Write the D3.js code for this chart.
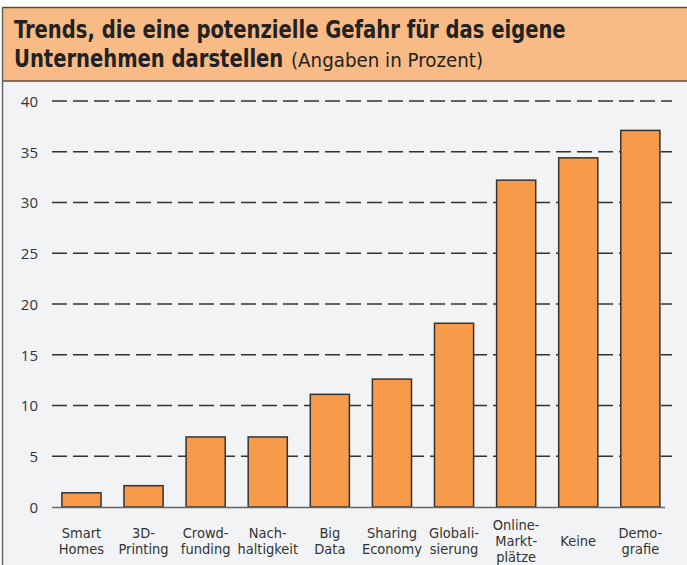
<!DOCTYPE html>
<html><head><meta charset="utf-8">
<script src="https://cdn.jsdelivr.net/npm/d3@7"></script>
<style>
body{margin:0;background:#fff;}
svg{display:block;}
</style></head>
<body>
<svg id="c" width="687" height="565"></svg>
<script>
const categories = [["Smart","Homes"],["3D-","Printing"],["Crowd-","funding"],["Nach-","haltigkeit"],["Big","Data"],["Sharing","Economy"],["Globali-","sierung"],["Online-","Markt-","plätze"],["Keine"],["Demo-","grafie"]];
const values = [1.4, 2.1, 6.9, 6.9, 11.1, 12.6, 18.1, 32.2, 34.4, 37.1];
const yTicks = [0,5,10,15,20,25,30,35,40];
const titleLine1 = "Trends, die eine potenzielle Gefahr für das eigene";
const titleLine2 = "Unternehmen darstellen";
const subtitle = "(Angaben in Prozent)";

const svg = d3.select("#c");
const condensed = "'DejaVu Sans Condensed','DejaVu Sans',sans-serif";

// backgrounds
svg.append("rect").attr("x",2).attr("y",7).attr("width",685).attr("height",558).attr("fill","#f2f3f5");
svg.append("rect").attr("x",2).attr("y",7).attr("width",685).attr("height",74).attr("fill","#f9bb86");
svg.append("line").attr("x1",2).attr("x2",687).attr("y1",7.5).attr("y2",7.5).attr("stroke","#5a4a3e").attr("stroke-width",1.5);
svg.append("line").attr("x1",2).attr("x2",687).attr("y1",81).attr("y2",81).attr("stroke","#5a4a3e").attr("stroke-width",1.5);
svg.append("line").attr("x1",2.5).attr("x2",2.5).attr("y1",7).attr("y2",565).attr("stroke","#666").attr("stroke-width",1.5);

// title (bold lines horizontally condensed via transform)
const tg1 = svg.append("g").attr("transform","translate(14,37.5) scale(0.87,1)");
tg1.append("text").attr("font-family",condensed).attr("fill","#222")
  .attr("font-size",25).attr("font-weight","bold").text(titleLine1);
const tg2 = svg.append("g").attr("transform","translate(14,66.5) scale(0.87,1)");
tg2.append("text").attr("font-family",condensed).attr("fill","#222")
  .attr("font-size",25).attr("font-weight","bold").text(titleLine2);
svg.append("text").attr("x",291).attr("y",66.5).attr("font-family",condensed).attr("fill","#222")
  .attr("font-size",20.3).text(subtitle);

const x = d3.scaleBand().domain(d3.range(categories.length)).range([50.4, 671.4]).paddingInner(0.37).paddingOuter(0.185);
const y = d3.scaleLinear().domain([0,40]).range([507,101]);

// grid
const g = svg.append("g");
g.selectAll("line.grid").data(yTicks.filter(d=>d>0)).join("line")
  .attr("x1",52).attr("x2",672).attr("y1",d=>y(d)).attr("y2",d=>y(d))
  .attr("stroke","#333").attr("stroke-width",1.3).attr("stroke-dasharray","15,6");

// y axis labels
const yAxis = d3.axisLeft(y).tickValues(yTicks).tickSize(0).tickPadding(0);
const ya = svg.append("g").attr("transform","translate(38,0)").call(yAxis);
ya.select(".domain").remove();
ya.selectAll("text").attr("font-family","'Open Sans',sans-serif").attr("font-size",15).attr("fill","#333").attr("dy","0.35em");

// bars
svg.append("g").selectAll("rect").data(values).join("rect")
  .attr("x",(d,i)=>x(i)).attr("width",x.bandwidth())
  .attr("y",d=>y(d)).attr("height",d=>y(0)-y(d))
  .attr("fill","#f79a4a").attr("stroke","#333").attr("stroke-width",1.5);

// baseline
svg.append("line").attr("x1",52).attr("x2",665).attr("y1",507.5).attr("y2",507.5).attr("stroke","#666").attr("stroke-width",1.5);

// x labels
const xl = svg.append("g");
categories.forEach((lines,i)=>{
  const cx = x(i)+x.bandwidth()/2;
  const n = lines.length;
  const startY = 541 - (n-1)*8;
  const tx = xl.append("text").attr("text-anchor","middle").attr("font-family",condensed).attr("font-size",14.5).attr("fill","#333");
  lines.forEach((l,j)=>tx.append("tspan").attr("x",cx).attr("y",startY + j*16 + 5).text(l));
});
</script>
</body></html>
